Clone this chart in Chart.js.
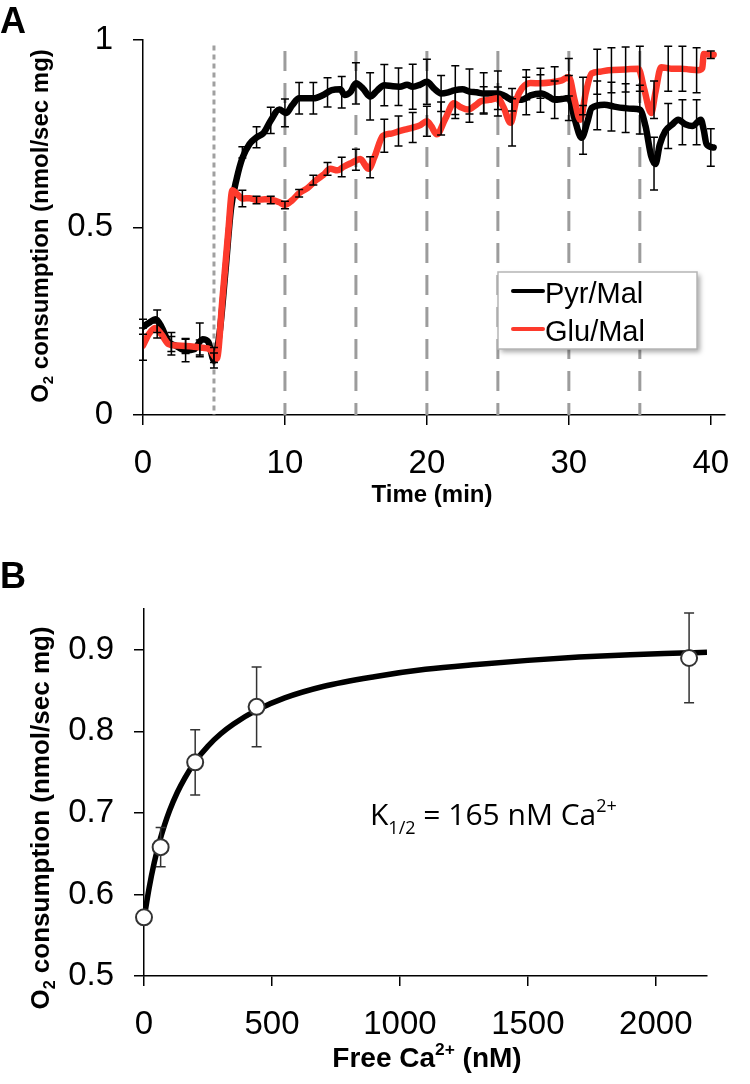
<!DOCTYPE html>
<html>
<head>
<meta charset="utf-8">
<script src="https://cdn.jsdelivr.net/npm/chart.js@4.4.0/dist/chart.umd.min.js"></script>
<style>
  html, body { margin: 0; padding: 0; background: #fff; }
  #wrap { position: relative; width: 750px; height: 1084px; }
  canvas { position: absolute; left: 0; }
  #cA { top: 0; }
  #cB { top: 540px; }
</style>
</head>
<body>
<div id="wrap">
  <canvas id="cA" width="750" height="540"></canvas>
  <canvas id="cB" width="750" height="544"></canvas>
</div>
<script>
// ---- panel A: O2 consumption vs time ----
const pyrT = [0,0.4,0.9,1.3,1.8,2.3,3.0,3.6,4.2,4.6,5.0,5.4,5.8,6.2,6.6,7.0,7.5,8.0,8.5,9.0,9.6,10.1,10.5,11.0,12.0,12.7,13.3,13.9,14.2,14.6,15.0,15.5,16.0,16.5,17.0,17.6,18.1,18.6,19.0,19.5,20.0,20.5,21.0,21.5,22.0,22.5,23.0,23.5,24.0,25.0,25.5,26.0,26.7,27.3,28.1,28.6,29.0,29.5,30.0,30.4,30.9,31.3,31.6,32.5,33.2,33.9,34.5,35.0,35.4,35.8,36.1,36.4,36.8,37.3,37.7,38.2,38.7,39.3,39.5,39.7,40.2];
const pyrV = [0.235,0.245,0.255,0.235,0.195,0.185,0.172,0.175,0.202,0.195,0.145,0.22,0.38,0.55,0.63,0.685,0.722,0.74,0.752,0.785,0.814,0.805,0.825,0.844,0.844,0.853,0.866,0.868,0.853,0.86,0.884,0.87,0.849,0.865,0.879,0.876,0.875,0.88,0.875,0.88,0.888,0.87,0.857,0.86,0.866,0.868,0.862,0.86,0.857,0.857,0.85,0.84,0.84,0.852,0.857,0.848,0.84,0.842,0.845,0.79,0.739,0.78,0.818,0.827,0.822,0.818,0.816,0.814,0.77,0.69,0.669,0.72,0.757,0.775,0.787,0.775,0.77,0.787,0.76,0.722,0.713];

const gluT = [0,0.4,0.85,1.3,1.8,2.4,3.0,3.6,4.2,4.7,5.2,5.6,6.0,6.3,6.6,7.0,7.5,8.0,8.6,9.1,9.6,10.0,10.5,11.0,11.6,12.2,12.7,13.2,13.7,14.1,14.7,15.3,15.9,16.3,16.9,17.5,18.1,18.6,19.0,19.5,20.0,20.3,20.7,21.3,21.9,22.4,22.9,23.4,23.8,24.4,25.0,25.4,25.9,26.3,26.7,27.3,28.0,29.0,29.5,30.0,30.4,30.8,31.2,31.6,32.2,32.8,34.0,34.9,35.3,35.8,36.1,36.5,37.2,37.9,38.5,39.1,39.4,39.5,40.2];
const gluV = [0.185,0.215,0.232,0.215,0.189,0.185,0.184,0.182,0.179,0.175,0.150,0.311,0.486,0.599,0.59,0.577,0.578,0.573,0.575,0.573,0.567,0.560,0.572,0.591,0.605,0.626,0.64,0.656,0.652,0.661,0.672,0.682,0.656,0.687,0.744,0.75,0.757,0.762,0.766,0.772,0.783,0.77,0.748,0.79,0.831,0.82,0.814,0.825,0.836,0.84,0.844,0.82,0.779,0.84,0.871,0.885,0.884,0.888,0.892,0.901,0.84,0.787,0.86,0.910,0.915,0.919,0.921,0.923,0.87,0.805,0.86,0.927,0.923,0.923,0.921,0.919,0.925,0.962,0.96];

// error bars, one per minute
const errT    = [0,1,2,3,4,5,7,8,9,10,11,12,13,14,15,16,17,18,19,20,21,22,23,24,25,26,27,28,29,30,31,32,33,34,35,36,37,38,39,40];
const pyrMid  = [0.235,0.25,0.19,0.172,0.20,0.145,0.70,0.74,0.785,0.805,0.844,0.844,0.86,0.86,0.884,0.849,0.879,0.875,0.875,0.888,0.857,0.866,0.862,0.857,0.857,0.84,0.85,0.857,0.84,0.845,0.76,0.825,0.822,0.818,0.814,0.67,0.77,0.78,0.78,0.713];
const pyrErr  = [0.02,0.03,0.03,0.03,0.045,0.02,0.015,0.028,0.035,0.037,0.042,0.042,0.039,0.042,0.055,0.063,0.055,0.05,0.06,0.06,0.048,0.065,0.06,0.055,0.06,0.03,0.05,0.05,0.05,0.06,0.065,0.065,0.065,0.065,0.065,0.07,0.06,0.06,0.06,0.05];
const gluMid  = [0.189,0.225,0.189,0.184,0.18,0.16,0.577,0.573,0.573,0.56,0.591,0.626,0.656,0.661,0.68,0.66,0.744,0.757,0.766,0.783,0.79,0.83,0.82,0.84,0.844,0.78,0.88,0.884,0.888,0.90,0.85,0.915,0.919,0.921,0.923,0.84,0.923,0.923,0.919,0.96];
const gluErr  = [0.043,0.02,0.02,0.02,0.02,0.02,0.022,0.01,0.01,0.01,0.01,0.013,0.017,0.026,0.028,0.028,0.044,0.04,0.04,0.04,0.044,0.04,0.04,0.035,0.03,0.063,0.04,0.04,0.04,0.05,0.05,0.06,0.06,0.06,0.06,0.05,0.06,0.06,0.06,0.01];

const additionT = [5, 10, 15, 20, 25, 30, 35];
const xTicksA = [0, 10, 20, 30, 40];
const yTicksA = [0, 0.5, 1];

// ---- panel B: Ca2+ dependence ----
const caX   = [0, 65, 200, 440, 2130];
const caY   = [0.572, 0.658, 0.762, 0.830, 0.890];
const caErr = [0, 0.024, 0.04, 0.049, 0.055];
const fitX  = [0,20,40,60,80,100,130,160,200,250,300,350,440,550,700,900,1100,1300,1500,1700,1900,2100,2200];
const fitY  = [0.570,0.608,0.639,0.664,0.685,0.703,0.725,0.743,0.763,0.782,0.797,0.809,0.826,0.841,0.855,0.867,0.876,0.882,0.887,0.891,0.894,0.896,0.897];
const xTicksB = [0, 500, 1000, 1500, 2000];
const yTicksB = [0.5, 0.6, 0.7, 0.8, 0.9];

const RED = "#fd3a2c";
const SANS = "'Liberation Sans', Arial, Helvetica, sans-serif";

function pts(xs, ys) {
  return xs.map((x, i) => ({ x: x, y: ys[i] }));
}

// draws text made of pieces with their own size and vertical shift
function richText(ctx, parts, x, y, rot, size, weight, family, align) {
  ctx.save();
  ctx.translate(x, y);
  ctx.rotate(rot);
  ctx.textAlign = "left";
  ctx.textBaseline = "alphabetic";
  ctx.fillStyle = "#000";
  let w = 0;
  parts.forEach(p => {
    ctx.font = weight + " " + (size * p[1]) + "px " + family;
    w += ctx.measureText(p[0]).width;
  });
  let cx = align === "left" ? 0 : -w / 2;
  parts.forEach(p => {
    ctx.font = weight + " " + (size * p[1]) + "px " + family;
    ctx.fillText(p[0], cx, p[2] * size);
    cx += ctx.measureText(p[0]).width;
  });
  ctx.restore();
}

function errorBars(chart, xs, mids, errs, cap, color) {
  const ctx = chart.ctx;
  const sx = chart.scales.x, sy = chart.scales.y;
  ctx.save();
  ctx.strokeStyle = color;
  ctx.lineWidth = 1.5;
  for (let i = 0; i < xs.length; i++) {
    if (!errs[i]) continue;
    const px = sx.getPixelForValue(xs[i]);
    const top = sy.getPixelForValue(mids[i] + errs[i]);
    const bot = sy.getPixelForValue(mids[i] - errs[i]);
    ctx.beginPath();
    ctx.moveTo(px, top); ctx.lineTo(px, bot);
    ctx.moveTo(px - cap, top); ctx.lineTo(px + cap, top);
    ctx.moveTo(px - cap, bot); ctx.lineTo(px + cap, bot);
    ctx.stroke();
  }
  ctx.restore();
}

function axisStyle(fixedTicks) {
  return {
    type: "linear",
    grid: { drawOnChartArea: false, drawTicks: true, tickLength: 10, color: "#000", lineWidth: 1.5 },
    border: { display: true, color: "#000", width: 1.5 },
    afterBuildTicks: s => { s.ticks = fixedTicks.map(v => ({ value: v })); }
  };
}

const tickFont = { family: SANS, size: 33 };

const xA = Object.assign(axisStyle(xTicksA), {
  min: 0, max: 41,
  ticks: { color: "#000", font: tickFont, padding: 19, maxRotation: 0, callback: v => String(v) },
  afterFit: s => { s.height = 125; }
});
const yA = Object.assign(axisStyle(yTicksA), {
  min: 0, max: 1,
  ticks: { color: "#000", font: tickFont, padding: 20, callback: v => String(v) },
  afterFit: s => { s.width = 143; }
});

const decorA = {
  id: "decorA",
  beforeDatasetsDraw(chart) {
    const ctx = chart.ctx, sx = chart.scales.x, sy = chart.scales.y;
    ctx.save();
    additionT.forEach((t, i) => {
      const px = sx.getPixelForValue(t);
      ctx.beginPath();
      if (i === 0) {
        ctx.setLineDash([5, 4]); ctx.lineWidth = 3; ctx.strokeStyle = "#a0a0a0";
        ctx.moveTo(px, sy.getPixelForValue(0.985));
      } else {
        ctx.setLineDash([20, 12]); ctx.lineWidth = 3; ctx.strokeStyle = "#9c9c9c";
        ctx.moveTo(px, sy.getPixelForValue(0.97));
      }
      ctx.lineTo(px, sy.getPixelForValue(0));
      ctx.stroke();
    });
    ctx.restore();
  },
  afterDatasetsDraw(chart) {
    errorBars(chart, errT, pyrMid, pyrErr, 4, "#000");
    errorBars(chart, errT, gluMid, gluErr, 4, "#000");
  },
  afterDraw(chart) {
    const ctx = chart.ctx;
    // legend box
    ctx.save();
    ctx.shadowColor = "rgba(0,0,0,0.35)";
    ctx.shadowBlur = 5; ctx.shadowOffsetX = 3; ctx.shadowOffsetY = 3;
    ctx.fillStyle = "#fff";
    ctx.fillRect(498, 272, 199, 77);
    ctx.restore();
    ctx.save();
    ctx.strokeStyle = "#b5b5b5"; ctx.lineWidth = 1.5;
    ctx.strokeRect(498, 272, 199, 77);
    const rows = [[chart.data.datasets[1], 291, 303], [chart.data.datasets[0], 329, 341]];
    rows.forEach(r => {
      ctx.strokeStyle = r[0].borderColor; ctx.lineWidth = 4; ctx.lineCap = "round";
      ctx.beginPath(); ctx.moveTo(513, r[1]); ctx.lineTo(543, r[1]); ctx.stroke();
      ctx.fillStyle = "#000"; ctx.font = "29px " + SANS; ctx.textAlign = "left";
      ctx.fillText(r[0].label, 545, r[2]);
    });
    ctx.restore();
    // titles
    richText(ctx, [["A", 1, 0]], 0, 33, 0, 36, "bold", SANS, "left");
    richText(ctx, [["O", 1, 0], ["2", 0.62, 0.22], [" consumption (nmol/sec mg)", 1, 0]], 48, 226, -Math.PI / 2, 24, "bold", SANS);
    richText(ctx, [["Time (min)", 1, 0]], 432, 502, 0, 24, "bold", SANS);
  }
};

new Chart(document.getElementById("cA"), {
  type: "line",
  data: {
    datasets: [
      { label: "Glu/Mal", data: pts(gluT, gluV), borderColor: RED, borderWidth: 6.5, pointRadius: 0,
        cubicInterpolationMode: "monotone", borderCapStyle: "round", borderJoinStyle: "round", order: 0 },
      { label: "Pyr/Mal", data: pts(pyrT, pyrV), borderColor: "#000", borderWidth: 6.5, pointRadius: 0,
        cubicInterpolationMode: "monotone", borderCapStyle: "round", borderJoinStyle: "round", order: 1 }
    ]
  },
  options: {
    responsive: false, animation: false, devicePixelRatio: 1,
    layout: { padding: { top: 34, right: 25, left: 0, bottom: 0 } },
    plugins: { legend: { display: false }, tooltip: { enabled: false } },
    scales: { x: xA, y: yA }
  },
  plugins: [decorA]
});

// ---- panel B ----
const xB = Object.assign(axisStyle(xTicksB), {
  min: 0, max: 2200,
  ticks: { color: "#000", font: tickFont, padding: 19, maxRotation: 0, callback: v => String(v) },
  afterFit: s => { s.height = 108; }
});
const yB = Object.assign(axisStyle(yTicksB), {
  min: 0.5, max: 0.95,
  ticks: { color: "#000", font: tickFont, padding: 20, callback: v => v.toFixed(1) },
  afterFit: s => { s.width = 144; }
});

const decorB = {
  id: "decorB",
  afterDatasetDraw(chart, args) {
    if (args.index === 1) errorBars(chart, caX, caY, caErr, 5, "#333");
  },
  afterDraw(chart) {
    const ctx = chart.ctx;
    richText(ctx, [["B", 1, 0]], 0, 48, 0, 36, "bold", SANS, "left");
    richText(ctx, [["O", 1, 0], ["2", 0.62, 0.22], [" consumption (nmol/sec mg)", 1, 0]], 49, 278, -Math.PI / 2, 26, "bold", SANS);
    richText(ctx, [["Free Ca", 1, 0], ["2+", 0.62, -0.42], [" (nM)", 1, 0]], 427, 527, 0, 28, "bold", SANS);
    richText(ctx, [["K", 1, 0], ["1/2", 0.6, 0.3], [" = 165 nM Ca", 1, 0], ["2+", 0.6, -0.45]], 370, 285, 0, 30, "normal", "'Open Sans', sans-serif", "left");
  }
};

new Chart(document.getElementById("cB"), {
  type: "line",
  data: {
    datasets: [
      { label: "measured", type: "scatter", data: pts(caX, caY), showLine: false, pointRadius: 8, clip: false,
        pointBackgroundColor: "#fff", pointBorderColor: "#333", pointBorderWidth: 2, order: 0 },
      { label: "fit", data: pts(fitX, fitY), borderColor: "#000", borderWidth: 5.5, pointRadius: 0,
        cubicInterpolationMode: "monotone", borderCapStyle: "butt", order: 1 }
    ]
  },
  options: {
    responsive: false, animation: false, devicePixelRatio: 1,
    layout: { padding: { top: 69, right: 43, left: 0, bottom: 0 } },
    plugins: { legend: { display: false }, tooltip: { enabled: false } },
    scales: { x: xB, y: yB }
  },
  plugins: [decorB]
});
</script>
</body>
</html>
